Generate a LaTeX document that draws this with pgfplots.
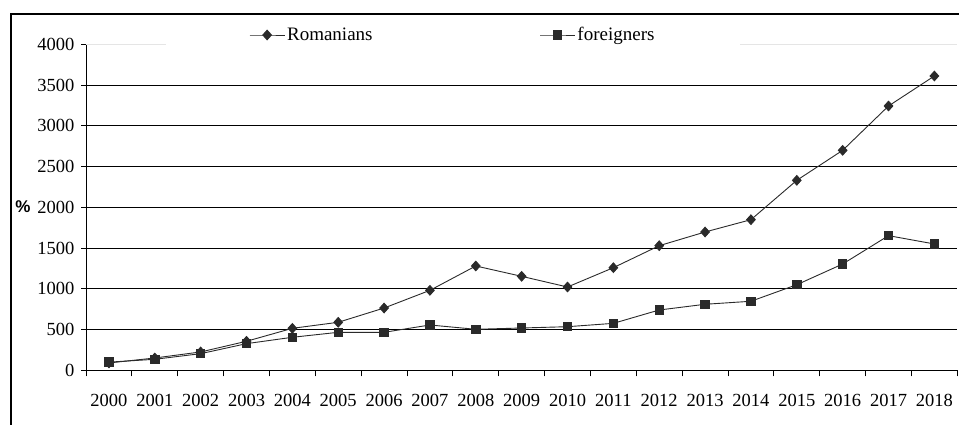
\documentclass[border=0pt]{standalone}
\usepackage{pgfplots}
\pgfplotsset{compat=1.18}
\usepackage{fontspec}
\setmainfont{Liberation Serif}
\newfontfamily\arialfont{Liberation Sans}
\definecolor{ser}{HTML}{2A2A2A}
\begin{document}
\begin{tikzpicture}[x=1pt,y=1pt]
\useasboundingbox (0,0) rectangle (959,425);
\draw[black, line width=1.2pt] (11,0) -- (11,411) -- (959,411);
\node[font=\arialfont\bfseries\fontsize{17}{19}\selectfont] at (23,218) {\%};
\begin{axis}[
  at={(86pt,54.7pt)}, anchor=south west,
  scale only axis, width=871.3pt, height=326pt,
  xmin=-0.5, xmax=18.5, ymin=0, ymax=4000,
  axis x line*=bottom, axis y line*=left,
  axis line style={-, black, line width=0.8pt},
  xtick={0,...,18},
  xticklabels={2000,2001,2002,2003,2004,2005,2006,2007,2008,2009,2010,2011,2012,2013,2014,2015,2016,2017,2018},
  major x tick style={draw=none},
  minor xtick={-0.5,0.5,...,18.5},
  minor x tick style={black, line width=0.8pt},
  minor tick length=6pt,
  ytick={0,500,...,3500},
  extra y ticks={4000},
  extra y tick style={grid style={gray!20, line width=0.8pt}},
  major tick length=5pt,
  tick align=outside,
  ytick style={black, line width=0.8pt},
  ymajorgrids,
  grid style={black, line width=0.8pt},
  tick label style={font=\fontsize{18.5}{20}\selectfont},
  /pgf/number format/assume math mode=true,
  /pgf/number format/1000 sep={},
  xticklabel style={yshift=-15pt},
  yticklabel style={xshift=-3pt},
  legend columns=2,
  legend style={at={(0.0918,1.0285)}, anchor=west, fill=white, draw=none,
    inner xsep=83pt, inner ysep=3pt,
    font=\fontsize{19}{21}\selectfont,
    /tikz/every even column/.append style={column sep=165pt}},
  legend image code/.code={\draw[mark repeat=2,mark phase=2,#1] plot coordinates {(0pt,0pt) (17.5pt,0pt) (35pt,0pt)};},
]
\addplot[ser, line width=0.9pt, mark=diamond*, mark size=4.8pt, mark options={fill=ser, draw=ser, xscale=1.2}] coordinates {
(0,90) (1,151) (2,225) (3,356) (4,515) (5,589) (6,764) (7,981) (8,1280) (9,1153)
(10,1022) (11,1259) (12,1529) (13,1697) (14,1848) (15,2331) (16,2699) (17,3243) (18,3611)};
\addlegendentry{Romanians}
\addplot[ser, line width=0.9pt, mark=square*, mark size=4.2pt, mark options={fill=ser, draw=ser}] coordinates {
(0,100) (1,135) (2,204) (3,327) (4,405) (5,466) (6,466) (7,556) (8,503) (9,519)
(10,535) (11,576) (12,740) (13,810) (14,847) (15,1050) (16,1304) (17,1652) (18,1550)};
\addlegendentry{foreigners}
\end{axis}
\end{tikzpicture}
\end{document}
